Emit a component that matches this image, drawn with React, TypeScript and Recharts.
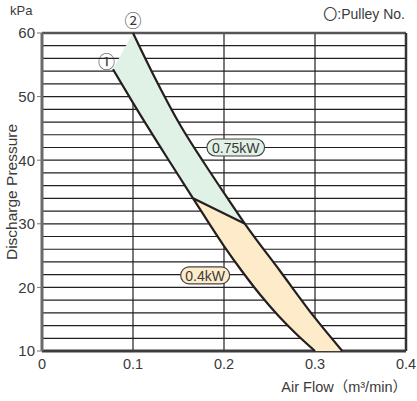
import React from "react";
import {
  ComposedChart,
  XAxis,
  YAxis,
  Scatter,
  ReferenceLine,
  ReferenceDot,
  Polygon,
} from "recharts";

// ---- data ----
const xTicks = [0, 0.1, 0.2, 0.3, 0.4];
const yTicks = [10, 20, 30, 40, 50, 60];
const hGrid = [12, 14, 16, 18, 20, 22, 24, 26, 28, 30, 32, 34, 36, 38, 40, 42, 44, 46, 48, 50, 52, 54, 56, 58];
const vGrid = [0.1, 0.2, 0.3];

// left boundary (pulley 1), continuous through both motors
const leftEdge = [
  { x: 0.078, y: 54.3 },
  { x: 0.1005, y: 48.9 },
  { x: 0.137, y: 40.5 },
  { x: 0.166, y: 34 },
  { x: 0.2, y: 26.5 },
  { x: 0.22, y: 22.5 },
  { x: 0.24, y: 18.8 },
  { x: 0.26, y: 15.5 },
  { x: 0.28, y: 12.6 },
  { x: 0.3, y: 10 },
];
// right boundary (pulley 2)
const rightEdge = [
  { x: 0.1, y: 60 },
  { x: 0.1225, y: 53.4 },
  { x: 0.152, y: 45.5 },
  { x: 0.178, y: 39.6 },
  { x: 0.204, y: 34 },
  { x: 0.223, y: 30 },
  { x: 0.262, y: 22.5 },
  { x: 0.3, y: 15.2 },
  { x: 0.33, y: 10 },
];
// boundary between 0.75kW and 0.4kW
const divider = [
  { x: 0.166, y: 34 },
  { x: 0.223, y: 30 },
];
// 0.75kW region outline
const greenRegion = [
  { x: 0.078, y: 54.3 },
  { x: 0.1, y: 60 },
  { x: 0.1225, y: 53.4 },
  { x: 0.152, y: 45.5 },
  { x: 0.178, y: 39.6 },
  { x: 0.204, y: 34 },
  { x: 0.223, y: 30 },
  { x: 0.166, y: 34 },
  { x: 0.137, y: 40.5 },
  { x: 0.1005, y: 48.9 },
];
// 0.4kW region outline
const orangeRegion = [
  { x: 0.166, y: 34 },
  { x: 0.223, y: 30 },
  { x: 0.262, y: 22.5 },
  { x: 0.3, y: 15.2 },
  { x: 0.33, y: 10 },
  { x: 0.3, y: 10 },
  { x: 0.28, y: 12.6 },
  { x: 0.26, y: 15.5 },
  { x: 0.24, y: 18.8 },
  { x: 0.22, y: 22.5 },
  { x: 0.2, y: 26.5 },
];
const pulleyMarks = [
  { x: 0.0708, y: 55.6, label: "①" },
  { x: 0.0999, y: 62.2, label: "②" },
];
const motorLabels = [
  { x: 0.2129, y: 42.0, label: "0.75kW", fill: "#e2f1e6" },
  { x: 0.1793, y: 21.9, label: "0.4kW", fill: "#fdebc9" },
];

const FONT = "'Liberation Sans', Arial, 'Noto Sans CJK JP', sans-serif";
const INK = "#231f20";
const TEXT = "#3a3a3a";

const hidden = () => <g />;

export default function App() {
  return (
    <div style={{ position: "absolute", left: 0, top: 0, width: 417, height: 401, background: "#fff", fontFamily: FONT }}>
      <ComposedChart
        width={417}
        height={401}
        margin={{ top: 33, right: 11, bottom: 20, left: 0 }}
      >
        <XAxis
          type="number"
          dataKey="x"
          domain={[0, 0.4]}
          ticks={xTicks}
          tickFormatter={(v: number) => (v === 0 ? "0" : String(v))}
          axisLine={{ stroke: "#3d3d3d", strokeWidth: 3 }}
          tickLine={false}
          tickSize={4}
          tickMargin={4}
          height={30}
          tick={{ fontSize: 14.5, fill: TEXT, fontFamily: FONT }}
          label={(props: any) => {
            const vb = props.viewBox;
            return (
              <text
                x={vb.x + vb.width + 1}
                y={392}
                textAnchor="end"
                fontSize={14.5}
                fill={TEXT}
                fontFamily={FONT}
              >
                Air Flow（m³/min）
              </text>
            );
          }}
        />
        <YAxis
          type="number"
          dataKey="y"
          domain={[10, 60]}
          ticks={yTicks}
          width={42}
          axisLine={{ stroke: "#6a6a6a", strokeWidth: 3 }}
          tickLine={{ stroke: "#777" }}
          tickSize={5}
          tickMargin={2}
          tick={{ fontSize: 15, fill: TEXT, fontFamily: FONT }}
          label={(props: any) => {
            const vb = props.viewBox;
            const cy = vb.y + vb.height / 2;
            return (
              <text
                x={17}
                y={cy}
                transform={`rotate(-90 17 ${cy})`}
                textAnchor="middle"
                fontSize={15.5}
                fill={TEXT}
                fontFamily={FONT}
              >
                Discharge Pressure
              </text>
            );
          }}
        />

        <Scatter
          data={greenRegion}
          dataKey="y"
          isAnimationActive={false}
          shape={hidden}
          lineType="joint"
          line={(p: any) => <Polygon points={p.points} fill="#e0f1e5" stroke="none" />}
        />
        <Scatter
          data={orangeRegion}
          dataKey="y"
          isAnimationActive={false}
          shape={hidden}
          lineType="joint"
          line={(p: any) => <Polygon points={p.points} fill="#feebc9" stroke="none" />}
        />

        {hGrid.map((v) => (
          <ReferenceLine key={"h" + v} y={v} stroke={INK} strokeWidth={1.2} />
        ))}
        {vGrid.map((v) => (
          <ReferenceLine key={"v" + v} x={v} stroke={INK} strokeWidth={1.2} />
        ))}
        <ReferenceLine y={60} stroke="#555" strokeWidth={2.5} />
        <ReferenceLine x={0.4} stroke="#333" strokeWidth={2.5} />

        <Scatter
          data={leftEdge}
          dataKey="y"
          isAnimationActive={false}
          shape={hidden}
          lineType="joint"
          lineJointType="monotoneX"
          line={{ stroke: INK, strokeWidth: 2.2 }}
        />
        <Scatter
          data={rightEdge}
          dataKey="y"
          isAnimationActive={false}
          shape={hidden}
          lineType="joint"
          lineJointType="monotoneX"
          line={{ stroke: INK, strokeWidth: 2.2 }}
        />
        <Scatter
          data={divider}
          dataKey="y"
          isAnimationActive={false}
          shape={hidden}
          lineType="joint"
          lineJointType="linear"
          line={{ stroke: INK, strokeWidth: 2.2 }}
        />

        {pulleyMarks.map((m) => (
          <ReferenceDot
            key={m.label}
            x={m.x}
            y={m.y}
            r={1}
            ifOverflow="visible"
            shape={(p: any) => (
              <text
                x={p.cx}
                y={p.cy}
                textAnchor="middle"
                dominantBaseline="central"
                fontSize={17}
                fill={TEXT}
                fontFamily="'Noto Sans CJK JP', sans-serif"
              >
                {m.label}
              </text>
            )}
          />
        ))}
        {motorLabels.map((m) => (
          <ReferenceDot
            key={m.label}
            x={m.x}
            y={m.y}
            r={1}
            ifOverflow="visible"
            shape={(p: any) => {
              const w = m.label.length * 8.6 + 6;
              return (
                <g>
                  <rect
                    x={p.cx - w / 2}
                    y={p.cy - 8.5}
                    width={w}
                    height={17}
                    rx={8.5}
                    fill={m.fill}
                    stroke="#444"
                    strokeWidth={1.2}
                  />
                  <text
                    x={p.cx}
                    y={p.cy + 0.5}
                    textAnchor="middle"
                    dominantBaseline="central"
                    fontSize={14}
                    fill={TEXT}
                    fontFamily={FONT}
                  >
                    {m.label}
                  </text>
                </g>
              );
            }}
          />
        ))}
      </ComposedChart>
      <div style={{ position: "absolute", left: 10, top: 3, fontSize: 13, color: TEXT, fontFamily: FONT }}>kPa</div>
      <div style={{ position: "absolute", right: 12, top: 3, fontSize: 14, color: TEXT, fontFamily: FONT, whiteSpace: "nowrap" }}>
        <span style={{ fontFamily: "'Noto Sans CJK JP', sans-serif", fontSize: 14 }}>〇</span>:Pulley No.
      </div>
    </div>
  );
}
